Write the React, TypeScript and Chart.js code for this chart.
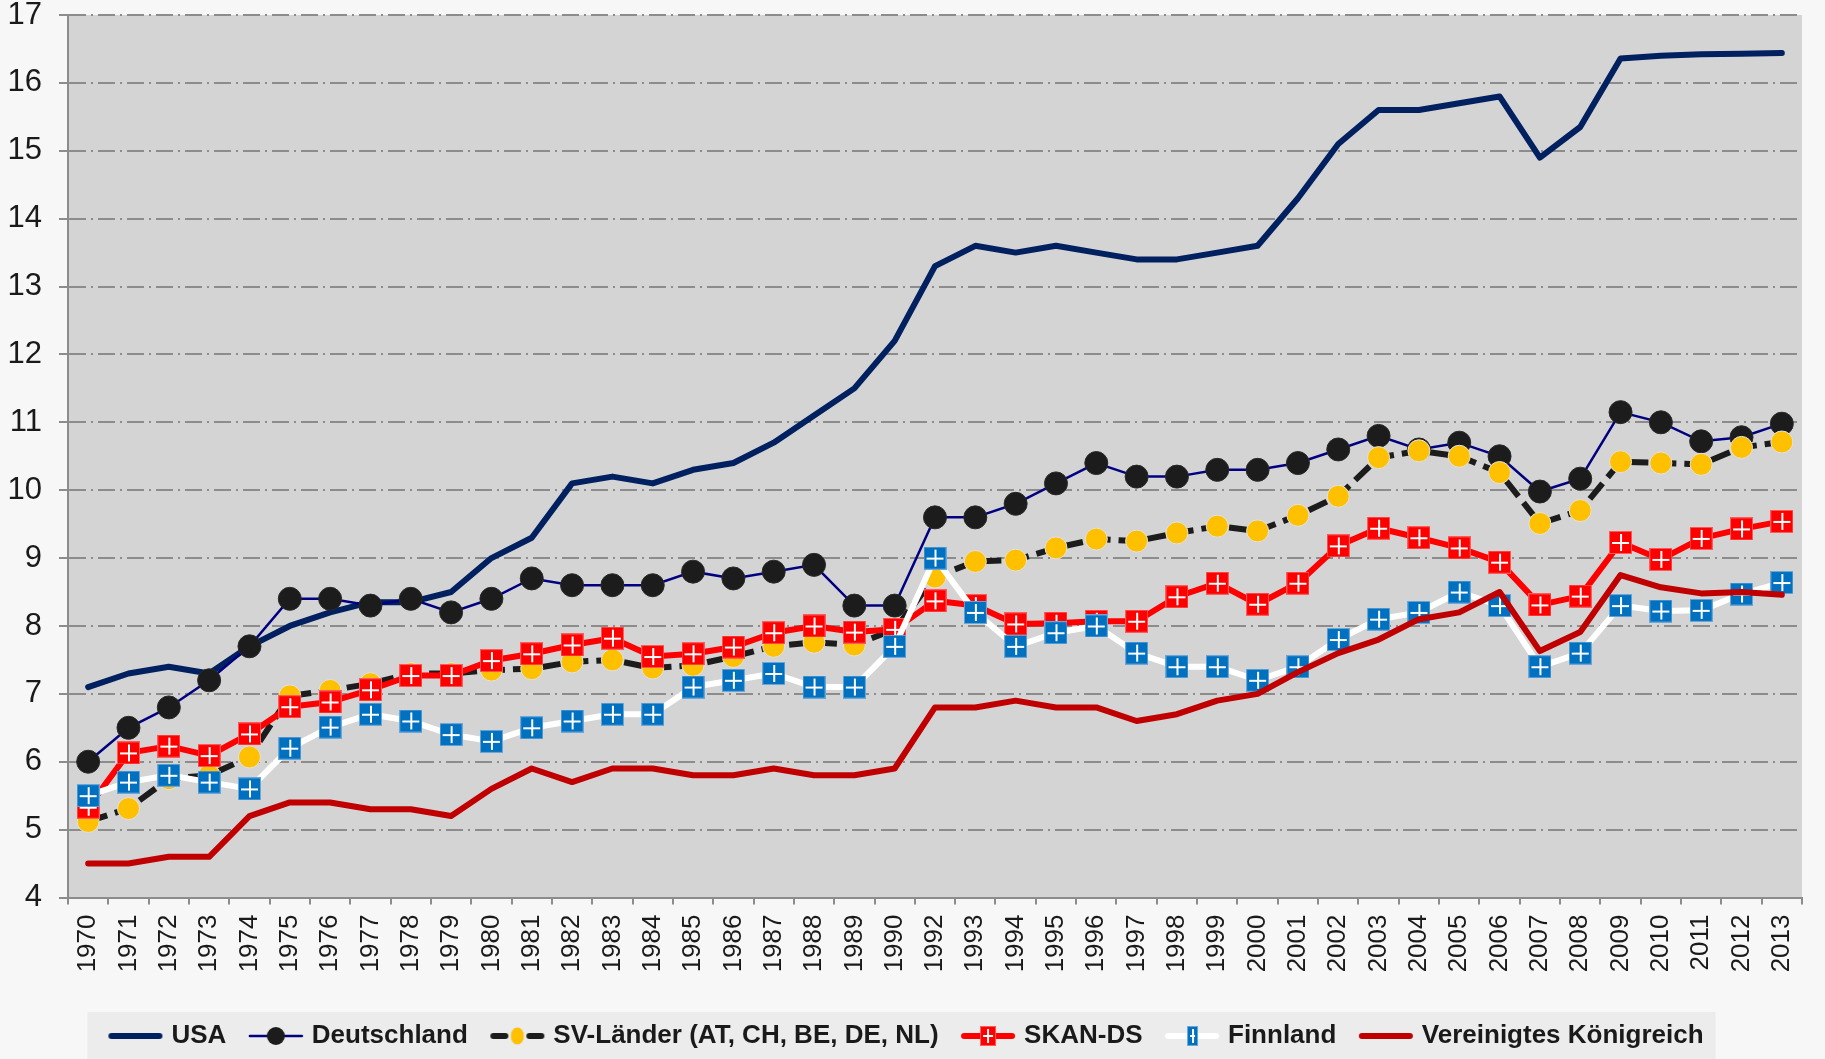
import React, { useEffect, useRef } from "react";
import { Chart, registerables } from "chart.js";

Chart.register(...registerables);

const years = [
  "1970", "1971", "1972", "1973", "1974", "1975", "1976", "1977", "1978", "1979",
  "1980", "1981", "1982", "1983", "1984", "1985", "1986", "1987", "1988", "1989",
  "1990", "1992", "1993", "1994", "1995", "1996", "1997", "1998", "1999", "2000",
  "2001", "2002", "2003", "2004", "2005", "2006", "2007", "2008", "2009", "2010",
  "2011", "2012", "2013",
];

const usa = [
  7.1, 7.3, 7.4, 7.3, 7.7, 8.0, 8.2, 8.35, 8.35, 8.5,
  9.0, 9.3, 10.1, 10.2, 10.1, 10.3, 10.4, 10.7, 11.1, 11.5,
  12.2, 13.3, 13.6, 13.5, 13.6, 13.5, 13.4, 13.4, 13.5, 13.6,
  14.3, 15.1, 15.6, 15.6, 15.7, 15.8, 14.9, 15.35, 16.36, 16.4,
  16.42, 16.43, 16.44,
];

const deutschland = [
  6.0, 6.5, 6.8, 7.2, 7.7, 8.4, 8.4, 8.3, 8.4, 8.2,
  8.4, 8.7, 8.6, 8.6, 8.6, 8.8, 8.7, 8.8, 8.9, 8.3,
  8.3, 9.6, 9.6, 9.8, 10.1, 10.4, 10.2, 10.2, 10.3, 10.3,
  10.4, 10.6, 10.8, 10.6, 10.7, 10.5, 9.98, 10.17, 11.15, 11.0,
  10.72, 10.78, 10.98,
];

const svLaender = [
  5.12, 5.31, 5.75, 5.8, 6.07, 6.97, 7.05, 7.15, 7.3, 7.3,
  7.35, 7.37, 7.47, 7.5, 7.38, 7.42, 7.55, 7.7, 7.76, 7.72,
  7.95, 8.72, 8.95, 8.97, 9.15, 9.28, 9.25, 9.37, 9.47, 9.4,
  9.63, 9.91, 10.48, 10.58, 10.5, 10.26, 9.51, 9.7, 10.42, 10.4,
  10.38, 10.63, 10.71,
];

const skanDs = [
  5.33, 6.13, 6.23, 6.09, 6.41, 6.81, 6.88, 7.06, 7.27, 7.27,
  7.49, 7.59, 7.72, 7.82, 7.55, 7.59, 7.69, 7.9, 8.0, 7.91,
  7.95, 8.37, 8.3, 8.03, 8.04, 8.07, 8.07, 8.43, 8.63, 8.32,
  8.63, 9.18, 9.44, 9.3, 9.15, 8.94, 8.31, 8.44, 9.23, 8.98,
  9.29, 9.43, 9.54,
];

const finnland = [
  5.5, 5.7, 5.8, 5.7, 5.6, 6.2, 6.51, 6.7, 6.6, 6.4,
  6.3, 6.5, 6.6, 6.7, 6.7, 7.1, 7.2, 7.3, 7.1, 7.1,
  7.7, 9.0, 8.2, 7.7, 7.9, 8.0, 7.6, 7.4, 7.4, 7.2,
  7.4, 7.8, 8.1, 8.2, 8.5, 8.3, 7.4, 7.6, 8.3, 8.22,
  8.23, 8.47, 8.64,
];

const uk = [
  4.5, 4.5, 4.6, 4.6, 5.2, 5.4, 5.4, 5.3, 5.3, 5.2,
  5.6, 5.9, 5.7, 5.9, 5.9, 5.8, 5.8, 5.9, 5.8, 5.8,
  5.9, 6.8, 6.8, 6.9, 6.8, 6.8, 6.6, 6.7, 6.9, 7.0,
  7.32, 7.6, 7.8, 8.1, 8.2, 8.5, 7.63, 7.91, 8.75, 8.57,
  8.48, 8.5, 8.46,
];

const seriesNames = [
  "USA",
  "Deutschland",
  "SV-Länder (AT, CH, BE, DE, NL)",
  "SKAN-DS",
  "Finnland",
  "Vereinigtes Königreich",
];

const yTicks = [4, 5, 6, 7, 8, 9, 10, 11, 12, 13, 14, 15, 16, 17];

const FONT = "'Liberation Sans', Arial, sans-serif";

function makeCanvas(w: number, h: number) {
  const c = document.createElement("canvas");
  c.width = w;
  c.height = h;
  return c;
}

function makeSquare(fill: string, edge: string, w: number, h: number) {
  const c = makeCanvas(w, h);
  const g = c.getContext("2d")!;
  g.fillStyle = edge;
  g.fillRect(0, 0, w, h);
  g.fillStyle = fill;
  g.fillRect(1, 1, w - 2, h - 2);
  g.fillStyle = "#ffffff";
  const mx = Math.round(w / 2);
  const my = Math.round(h / 2);
  g.fillRect(mx - 1, 3, 2, h - 6);
  g.fillRect(3, my - 1, w - 6, 2);
  return c;
}

function legendImage(draw: (g: CanvasRenderingContext2D, w: number, h: number) => void) {
  const w = 56;
  const h = 26;
  const c = makeCanvas(w, h);
  const g = c.getContext("2d")!;
  draw(g, w, h);
  return c;
}

function hLine(g: CanvasRenderingContext2D, x1: number, x2: number, y: number, color: string, width: number) {
  g.strokeStyle = color;
  g.lineWidth = width;
  g.lineCap = "round";
  g.beginPath();
  g.moveTo(x1, y);
  g.lineTo(x2, y);
  g.stroke();
}

export default function App() {
  const ref = useRef<HTMLCanvasElement | null>(null);

  useEffect(() => {
    document.body.style.margin = "0";
    document.body.style.background = "#f7f7f7";
    const canvas = ref.current;
    if (!canvas) return;

    const redSquare = makeSquare("#ff0000", "#ff5a5a", 23, 23);
    const blueSquare = makeSquare("#0070c0", "#6aa7d8", 23, 23);

    const legUSA = legendImage((g, w, h) => hLine(g, 4, w - 4, h / 2, "#002060", 6));
    const legDE = legendImage((g, w, h) => {
      hLine(g, 2, w - 2, h / 2, "#000080", 2.5);
      g.fillStyle = "#1c1c1c";
      g.beginPath();
      g.arc(w / 2, h / 2, 9, 0, Math.PI * 2);
      g.fill();
    });
    const legSV = legendImage((g, w, h) => {
      hLine(g, 4, 16, h / 2, "#1c1c1c", 6);
      hLine(g, 40, 52, h / 2, "#1c1c1c", 6);
      g.fillStyle = "#ffc000";
      g.strokeStyle = "#e6e6e6";
      g.lineWidth = 1;
      g.beginPath();
      g.ellipse(w / 2, h / 2, 7, 9, 0, 0, Math.PI * 2);
      g.fill();
      g.stroke();
    });
    const legSKAN = legendImage((g, w, h) => {
      hLine(g, 4, w - 4, h / 2, "#ff0000", 6);
      const sq = makeSquare("#ff0000", "#ff5a5a", 16, 20);
      g.drawImage(sq, w / 2 - 8, h / 2 - 10);
    });
    const legFI = legendImage((g, w, h) => {
      hLine(g, 4, w - 4, h / 2, "#ffffff", 6);
      const sq = makeSquare("#0070c0", "#6aa7d8", 11, 20);
      g.drawImage(sq, Math.round(w / 2 - 5.5), h / 2 - 10);
    });
    const legUK = legendImage((g, w, h) => hLine(g, 4, w - 4, h / 2, "#c00000", 6));
    const legendImgs = [legUSA, legDE, legSV, legSKAN, legFI, legUK];

    const bgPlugin = {
      id: "bgPlugin",
      afterLayout(chart: any) {
        const lg = chart.legend;
        if (lg) {
          lg.left += 7;
          lg.right += 7;
        }
      },
      beforeDraw(chart: any) {
        const { ctx, chartArea: a, width, height } = chart;
        ctx.save();
        ctx.fillStyle = "#f7f7f7";
        ctx.fillRect(0, 0, width, height);
        ctx.fillStyle = "#d4d4d4";
        ctx.fillRect(a.left, a.top, a.right - a.left, a.bottom - a.top);
        const hb = chart.legend && chart.legend.legendHitBoxes;
        if (hb && hb.length) {
          const l = hb[0].left - 25;
          const last = hb[hb.length - 1];
          const r = last.left + last.width + 12;
          const cy = hb[0].top + hb[0].height / 2;
          ctx.fillStyle = "#ececec";
          ctx.fillRect(l, cy - 24, r - l, height - (cy - 24));
        }
        ctx.restore();
      },
    };

    const chart = new Chart(canvas, {
      type: "line",
      data: {
        labels: years,
        datasets: [
          {
            label: seriesNames[0],
            data: usa,
            borderColor: "#002060",
            borderWidth: 6,
            pointRadius: 0,
            borderCapStyle: "round",
            borderJoinStyle: "round",
            order: 6,
          },
          {
            label: seriesNames[1],
            data: deutschland,
            borderColor: "#000080",
            borderWidth: 2.5,
            pointStyle: "circle",
            pointRadius: 11.5,
            pointBackgroundColor: "#1c1c1c",
            pointBorderColor: "#2a2a2a",
            pointBorderWidth: 1,
            order: 5,
          },
          {
            label: seriesNames[2],
            data: svLaender,
            borderColor: "#1c1c1c",
            borderWidth: 6,
            borderDash: [20, 8],
            pointStyle: "circle",
            pointRadius: 11,
            pointBackgroundColor: "#ffc000",
            pointBorderColor: "#e2e2e2",
            pointBorderWidth: 1,
            order: 4,
          },
          {
            label: seriesNames[3],
            data: skanDs,
            borderColor: "#ff0000",
            borderWidth: 6,
            borderJoinStyle: "round",
            pointStyle: redSquare,
            order: 3,
          },
          {
            label: seriesNames[4],
            data: finnland,
            borderColor: "#ffffff",
            borderWidth: 6,
            borderJoinStyle: "round",
            pointStyle: blueSquare,
            order: 2,
          },
          {
            label: seriesNames[5],
            data: uk,
            borderColor: "#c00000",
            borderWidth: 6,
            pointRadius: 0,
            borderCapStyle: "round",
            borderJoinStyle: "round",
            order: 1,
          },
        ],
      },
      options: {
        responsive: false,
        animation: false,
        devicePixelRatio: 1,
        layout: { padding: { top: 0, right: 23, bottom: 0, left: 0 } },
        elements: { line: { tension: 0 } },
        scales: {
          x: {
            type: "category",
            offset: true,
            grid: {
              display: true,
              drawOnChartArea: false,
              drawTicks: true,
              tickLength: 7,
              offset: true,
              color: "#8c8c8c",
              lineWidth: 2,
            },
            border: { display: true, color: "#8c8c8c", width: 2 },
            ticks: {
              autoSkip: false,
              maxRotation: 90,
              minRotation: 90,
              padding: 10,
              color: "#1a1a1a",
              font: { family: FONT, size: 26 },
            },
            afterFit(scale: any) {
              scale.height = 99;
              scale.paddingLeft = 0;
              scale.paddingRight = 0;
            },
          },
          y: {
            min: yTicks[0],
            max: yTicks[yTicks.length - 1],
            afterBuildTicks(scale: any) {
              scale.ticks = yTicks.map((v) => ({ value: v }));
            },
            grid: {
              color: "#8c8c8c",
              lineWidth: 2,
              tickLength: 9,
              drawTicks: true,
            },
            border: { display: true, color: "#8c8c8c", width: 2, dash: [17, 5, 2, 5] },
            ticks: {
              padding: 17,
              color: "#1a1a1a",
              font: { family: FONT, size: 31, lineHeight: 1 },
            },
            afterFit(scale: any) {
              scale.width = 68;
              scale.paddingTop = 15;
              scale.paddingBottom = 0;
            },
          },
        },
        plugins: {
          tooltip: { enabled: false },
          legend: {
            position: "bottom",
            labels: {
              usePointStyle: true,
              pointStyleWidth: 46,
              padding: 26.5,
              color: "#1a1a1a",
              font: { family: FONT, size: 26, weight: "bold" },
              generateLabels: () =>
                seriesNames.map((name, i) => ({
                  text: name,
                  fillStyle: "rgba(0,0,0,0)",
                  strokeStyle: "rgba(0,0,0,0)",
                  lineWidth: 0,
                  fontColor: "#1a1a1a",
                  hidden: false,
                  pointStyle: legendImgs[i],
                  datasetIndex: i,
                })),
            },
          },
        },
      },
      plugins: [bgPlugin],
    } as any);

    return () => chart.destroy();
  }, []);

  return (
    <div style={{ width: 1825, height: 1059, background: "#f7f7f7" }}>
      <canvas ref={ref} width={1825} height={1059} style={{ display: "block" }} />
    </div>
  );
}
